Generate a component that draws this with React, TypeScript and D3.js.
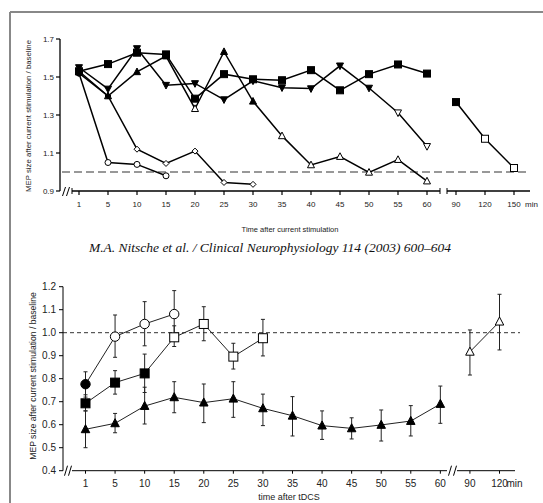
import React from "react";
import * as d3 from "d3";

// ---------- top panel data ----------
const topLabels = ["1", "5", "10", "15", "20", "25", "30", "35", "40", "45", "50", "55", "60", "90", "120", "150"];
const topTicks = [0.9, 1.1, 1.3, 1.5, 1.7];
const circle5 = [1.52, 1.05, 1.04, 0.98];
const circle5Filled = [true, false, false, false];
const diamond7 = [1.52, 1.4, 1.12, 1.045, 1.11, 0.945, 0.935];
const diamond7Filled = [true, true, false, false, false, false, false];
const tri9 = [1.53, 1.4, 1.527, 1.61, 1.333, 1.633, 1.372, 1.19, 1.037, 1.081, 0.998, 1.065, 0.952];
const tri9Filled = [true, true, true, true, false, true, true, false, false, false, false, false, false];
const inv11 = [1.55, 1.437, 1.65, 1.457, 1.466, 1.381, 1.48, 1.444, 1.439, 1.559, 1.442, 1.312, 1.135];
const inv11Filled = [true, true, true, true, true, true, true, true, true, true, true, false, false];
const sq13 = [1.53, 1.568, 1.628, 1.619, 1.386, 1.515, 1.488, 1.483, 1.536, 1.43, 1.515, 1.566, 1.518];
const sq13Late = [1.368, 1.175, 1.021];
const sq13LateFilled = [true, false, false];

// ---------- bottom panel data ----------
const botLabels = ["1", "5", "10", "15", "20", "25", "30", "35", "40", "45", "50", "55", "60", "90", "120"];
const botTicks = [0.4, 0.5, 0.6, 0.7, 0.8, 0.9, 1.0, 1.1, 1.2];
const bCircle = [0.776, 0.983, 1.038, 1.081];
const bCircleLo = [0.72, 0.893, 0.943, 0.98];
const bCircleHi = [0.83, 1.077, 1.135, 1.183];
const bCircleFilled = [true, false, false, false];
const bSquare = [0.693, 0.783, 0.823, 0.98, 1.038, 0.896, 0.976];
const bSquareLo = [0.66, 0.733, 0.74, 0.94, 0.965, 0.842, 0.899];
const bSquareHi = [0.73, 0.835, 0.907, 1.03, 1.113, 0.954, 1.058];
const bSquareFilled = [true, true, true, false, false, false, false];
const bTri = [0.58, 0.606, 0.681, 0.719, 0.696, 0.713, 0.671, 0.639, 0.596, 0.584, 0.599, 0.616, 0.69];
const bTriLo = [0.5, 0.565, 0.603, 0.652, 0.609, 0.632, 0.596, 0.551, 0.536, 0.538, 0.529, 0.551, 0.606];
const bTriHi = [0.66, 0.649, 0.763, 0.787, 0.777, 0.787, 0.733, 0.722, 0.66, 0.63, 0.664, 0.683, 0.768];
const bLate = [0.917, 1.048];
const bLateLo = [0.816, 0.925];
const bLateHi = [1.012, 1.167];

type Shape = "square" | "circle" | "triUp" | "triDown" | "diamond";

function Marker({ shape, x, y, s, filled, sw }: { shape: Shape; x: number; y: number; s: number; filled: boolean; sw: number }) {
  const fill = filled ? "#000" : "#fff";
  const common = { fill, stroke: "#000", strokeWidth: sw };
  if (shape === "square") return <rect x={x - s / 2} y={y - s / 2} width={s} height={s} {...common} />;
  if (shape === "circle") return <circle cx={x} cy={y} r={s / 2} {...common} />;
  if (shape === "diamond")
    return <path d={`M${x},${y - s / 2}L${x + s / 2},${y}L${x},${y + s / 2}L${x - s / 2},${y}Z`} {...common} />;
  if (shape === "triUp")
    return <path d={`M${x},${y - s * 0.55}L${x + s / 2},${y + s * 0.4}L${x - s / 2},${y + s * 0.4}Z`} {...common} />;
  return <path d={`M${x},${y + s * 0.55}L${x + s / 2},${y - s * 0.4}L${x - s / 2},${y - s * 0.4}Z`} {...common} />;
}

export default function App() {
  const font = "'Liberation Sans', Arial, sans-serif";
  // top scales
  const xT = d3.scalePoint<string>().domain(topLabels).range([79, 514]);
  const yT = d3.scaleLinear().domain([0.9, 1.7]).range([191, 39]);
  // bottom scales
  const xB = d3.scalePoint<string>().domain(botLabels).range([85.5, 499.5]);
  const yB = d3.scaleLinear().domain([0.4, 1.2]).range([470.7, 286.7]);

  const lineT = (vals: number[], offset = 0) =>
    d3.line<number>().x((_, i) => xT(topLabels[i + offset])!).y((v) => yT(v))(vals)!;
  const lineB = (vals: number[], offset = 0) =>
    d3.line<number>().x((_, i) => xB(botLabels[i + offset])!).y((v) => yB(v))(vals)!;

  const topSeries: { vals: number[]; filled: boolean[]; shape: Shape; s: number; offset: number }[] = [
    { vals: circle5, filled: circle5Filled, shape: "circle", s: 6, offset: 0 },
    { vals: diamond7, filled: diamond7Filled, shape: "diamond", s: 6, offset: 0 },
    { vals: tri9, filled: tri9Filled, shape: "triUp", s: 7, offset: 0 },
    { vals: inv11, filled: inv11Filled, shape: "triDown", s: 7, offset: 0 },
    { vals: sq13, filled: sq13.map(() => true), shape: "square", s: 7, offset: 0 },
    { vals: sq13Late, filled: sq13LateFilled, shape: "square", s: 7, offset: 13 },
  ];

  const botSeries: { vals: number[]; lo: number[]; hi: number[]; filled: boolean[]; shape: Shape; s: number; offset: number }[] = [
    { vals: bTri, lo: bTriLo, hi: bTriHi, filled: bTri.map(() => true), shape: "triUp", s: 8.5, offset: 0 },
    { vals: bSquare, lo: bSquareLo, hi: bSquareHi, filled: bSquareFilled, shape: "square", s: 9, offset: 0 },
    { vals: bCircle, lo: bCircleLo, hi: bCircleHi, filled: bCircleFilled, shape: "circle", s: 9.4, offset: 0 },
    { vals: bLate, lo: bLateLo, hi: bLateHi, filled: [false, false], shape: "triUp", s: 8.5, offset: 13 },
  ];

  const ylabel = "MEP size after current stimulation / baseline";

  return (
    <svg
      width={543}
      height={503}
      style={{ position: "absolute", left: 0, top: 0, background: "#fff" }}
      fontFamily={font}
    >
      <rect x={0} y={0} width={543} height={503} fill="#fff" />
      {/* frame */}
      <line x1={10} y1={12} x2={543} y2={12} stroke="#888" strokeWidth={2} />
      <line x1={10} y1={12} x2={10} y2={503} stroke="#888" strokeWidth={2} />

      {/* ================= TOP PANEL ================= */}
      <line x1={62} x2={530} y1={yT(1.0)} y2={yT(1.0)} stroke="#777" strokeWidth={1.5} strokeDasharray="8,4" />
      {/* y axis */}
      <line x1={60} x2={60} y1={yT(1.7)} y2={yT(0.9)} stroke="#000" strokeWidth={1.3} />
      {topTicks.map((t) => (
        <g key={t}>
          <line x1={56} x2={60} y1={yT(t)} y2={yT(t)} stroke="#000" strokeWidth={1.2} />
          <text x={54} y={yT(t) + 3} fontSize={8} textAnchor="end" fill="#222">
            {t.toFixed(1)}
          </text>
        </g>
      ))}
      <text transform={`translate(31,${116}) rotate(-90)`} fontSize={7.8} textAnchor="middle" fill="#222">
        {ylabel}
      </text>
      {/* x axis */}
      <line x1={72} x2={440} y1={191} y2={191} stroke="#000" strokeWidth={1.3} />
      <line x1={447} x2={530} y1={191} y2={191} stroke="#000" strokeWidth={1.3} />
      <line x1={72} x2={72} y1={188} y2={194} stroke="#000" strokeWidth={1} />
      <line x1={440} x2={440} y1={188} y2={194} stroke="#000" strokeWidth={1} />
      <line x1={447} x2={447} y1={188} y2={194} stroke="#000" strokeWidth={1} />
      {[64, 68].map((x) => (
        <line key={x} x1={x - 1.5} x2={x + 1.5} y1={196} y2={187} stroke="#000" strokeWidth={1} />
      ))}
      {topLabels.map((l) => (
        <g key={l}>
          <line x1={xT(l)} x2={xT(l)} y1={191} y2={195} stroke="#000" strokeWidth={1.2} />
          <text x={xT(l)} y={207} fontSize={8} textAnchor="middle" fill="#222">
            {l}
          </text>
        </g>
      ))}
      <text x={xT("150")! + 11} y={207} fontSize={8} fill="#222">
        min
      </text>
      <text x={290} y={232} fontSize={7.5} textAnchor="middle" fill="#222">
        Time after current stimulation
      </text>
      {/* series lines */}
      {topSeries.map((s, i) => (
        <path key={"tl" + i} d={lineT(s.vals, s.offset)} fill="none" stroke="#000" strokeWidth={1.5} />
      ))}
      {topSeries.map((s, i) =>
        s.vals.map((v, j) => (
          <Marker
            key={"tm" + i + "-" + j}
            shape={s.shape}
            x={xT(topLabels[j + s.offset])!}
            y={yT(v)}
            s={s.s}
            filled={s.filled[j]}
            sw={1}
          />
        ))
      )}

      {/* citation */}
      <text
        x={270}
        y={252}
        fontSize={13.5}
        textAnchor="middle"
        fontStyle="italic"
        fontFamily="'Liberation Serif', 'Times New Roman', serif"
        fill="#111"
      >
        M.A. Nitsche et al. / Clinical Neurophysiology 114 (2003) 600–604
      </text>

      {/* ================= BOTTOM PANEL ================= */}
      <line x1={63} x2={520} y1={yB(1.0)} y2={yB(1.0)} stroke="#333" strokeWidth={1} strokeDasharray="4,3" />
      <line x1={63} x2={63} y1={yB(1.2)} y2={yB(0.4)} stroke="#000" strokeWidth={1} />
      {botTicks.map((t) => (
        <g key={t}>
          <line x1={59} x2={63} y1={yB(t)} y2={yB(t)} stroke="#000" strokeWidth={1} />
          <text x={56} y={yB(t) + 3.5} fontSize={10} textAnchor="end" fill="#222">
            {t.toFixed(1)}
          </text>
        </g>
      ))}
      <text transform={`translate(36,${376}) rotate(-90)`} fontSize={8.6} textAnchor="middle" fill="#222">
        {ylabel}
      </text>
      <line x1={72} x2={447} y1={yB(0.4)} y2={yB(0.4)} stroke="#000" strokeWidth={1} />
      <line x1={457} x2={515} y1={yB(0.4)} y2={yB(0.4)} stroke="#000" strokeWidth={1} />
      {[66, 70].map((x) => (
        <line key={x} x1={x - 1.5} x2={x + 1.5} y1={yB(0.4) + 5} y2={yB(0.4) - 5} stroke="#000" strokeWidth={1} />
      ))}
      {[450, 455].map((x) => (
        <line key={x} x1={x - 1.5} x2={x + 1.5} y1={yB(0.4) + 5} y2={yB(0.4) - 5} stroke="#000" strokeWidth={1} />
      ))}
      {botLabels.map((l) => (
        <g key={l}>
          <line x1={xB(l)} x2={xB(l)} y1={yB(0.4)} y2={yB(0.4) + 3} stroke="#000" strokeWidth={1} />
          <text x={xB(l)} y={487} fontSize={10} textAnchor="middle" fill="#222">
            {l}
          </text>
        </g>
      ))}
      <text x={xB("120")! + 7} y={487} fontSize={10} fill="#222">
        min
      </text>
      <text x={289} y={500} fontSize={9} textAnchor="middle" fill="#222">
        time after tDCS
      </text>
      {/* error bars */}
      {botSeries.map((s, i) =>
        s.vals.map((_, j) => {
          const x = xB(botLabels[j + s.offset])!;
          return (
            <g key={"be" + i + "-" + j} stroke="#222" strokeWidth={1}>
              <line x1={x} x2={x} y1={yB(s.lo[j])} y2={yB(s.hi[j])} />
              <line x1={x - 2} x2={x + 2} y1={yB(s.lo[j])} y2={yB(s.lo[j])} />
              <line x1={x - 2} x2={x + 2} y1={yB(s.hi[j])} y2={yB(s.hi[j])} />
            </g>
          );
        })
      )}
      {botSeries.map((s, i) => (
        <path key={"bl" + i} d={lineB(s.vals, s.offset)} fill="none" stroke="#222" strokeWidth={1} />
      ))}
      {botSeries.map((s, i) =>
        s.vals.map((v, j) => (
          <Marker
            key={"bm" + i + "-" + j}
            shape={s.shape}
            x={xB(botLabels[j + s.offset])!}
            y={yB(v)}
            s={s.s}
            filled={s.filled[j]}
            sw={1}
          />
        ))
      )}
    </svg>
  );
}
